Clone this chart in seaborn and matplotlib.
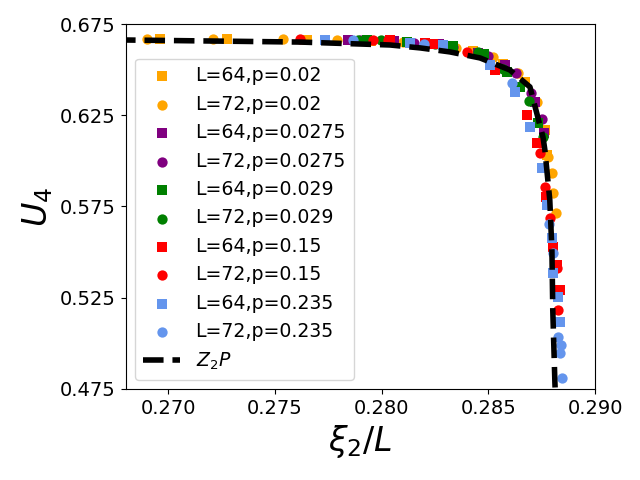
import matplotlib
matplotlib.use("Agg")
import matplotlib.pyplot as plt
import seaborn as sns
import pandas as pd

# ---- data ----
o64_x = [0.26963, 0.27276, 0.2765, 0.2795, 0.2822, 0.2843, 0.2857, 0.2867, 0.28765, 0.28774]
o64_y = [0.6670, 0.6670, 0.6663, 0.6656, 0.6640, 0.6600, 0.6530, 0.6430, 0.6170, 0.6033]
o72_x = [0.26902, 0.27211, 0.27538, 0.27791, 0.2810, 0.2835, 0.2852, 0.2864, 0.2873, 0.28779, 0.28798, 0.28802, 0.28816]
o72_y = [0.6670, 0.6670, 0.6668, 0.6662, 0.6650, 0.6620, 0.6570, 0.6480, 0.6320, 0.6022, 0.5934, 0.5824, 0.5715]

p64_x = [0.27843, 0.2806, 0.2827, 0.2845, 0.2858, 0.28718, 0.2876]
p64_y = [0.6662, 0.6655, 0.6640, 0.6590, 0.6525, 0.6323, 0.6150]
p72_x = [0.2790, 0.2815, 0.28334, 0.2850, 0.2863, 0.2870, 0.2875]
p72_y = [0.6660, 0.6648, 0.6625, 0.6575, 0.6480, 0.6370, 0.6230]

g64_x = [0.2793, 0.2812, 0.28334, 0.2848, 0.28587, 0.28648, 0.28732]
g64_y = [0.6662, 0.6650, 0.6628, 0.6585, 0.6487, 0.6405, 0.6208]
g72_x = [0.27890, 0.27997, 0.2825, 0.2845, 0.28568, 0.2869, 0.28756]
g72_y = [0.6663, 0.6660, 0.6638, 0.6595, 0.6505, 0.6330, 0.6131]

r64_x = [0.28039, 0.28203, 0.28241, 0.28531, 0.28681, 0.28728, 0.28770, 0.28802, 0.28821, 0.28835]
r64_y = [0.6660, 0.6648, 0.6640, 0.6498, 0.6252, 0.6098, 0.5803, 0.5529, 0.5430, 0.5293]
r72_x = [0.27618, 0.27960, 0.28030, 0.28400, 0.28742, 0.28765, 0.28788, 0.28821, 0.28826]
r72_y = [0.6666, 0.6662, 0.6660, 0.6597, 0.6044, 0.5857, 0.5688, 0.5414, 0.5184]

b64_x = [0.27735, 0.28133, 0.28287, 0.28507, 0.28625, 0.28695, 0.28751, 0.28774, 0.28798, 0.28802, 0.28826, 0.28835]
b64_y = [0.6662, 0.6646, 0.6635, 0.6525, 0.6378, 0.6186, 0.5961, 0.5759, 0.5578, 0.5386, 0.5255, 0.5118]
b72_x = [0.27866, 0.2820, 0.28610, 0.28784, 0.28802, 0.28826, 0.28840, 0.28835, 0.28845]
b72_y = [0.6662, 0.6640, 0.6427, 0.5655, 0.5496, 0.5036, 0.4992, 0.4948, 0.4811]

z2p_x = [0.2675, 0.27618, 0.28039, 0.28180, 0.28320, 0.28461, 0.28601, 0.28695, 0.28756, 0.28765, 0.28788, 0.28798, 0.28802, 0.28812, 0.28815]
z2p_y = [0.6663, 0.6651, 0.6635, 0.6619, 0.6597, 0.6564, 0.6498, 0.6405, 0.6131, 0.6060, 0.5786, 0.5512, 0.5184, 0.4784, 0.4700]

labels = ["L=64,p=0.02", "L=72,p=0.02", "L=64,p=0.0275", "L=72,p=0.0275",
          "L=64,p=0.029", "L=72,p=0.029", "L=64,p=0.15", "L=72,p=0.15",
          "L=64,p=0.235", "L=72,p=0.235"]
colors = ["orange", "orange", "purple", "purple", "green", "green",
          "red", "red", "cornflowerblue", "cornflowerblue"]
markers = ["s", "o"] * 5
xs = [o64_x, o72_x, p64_x, p72_x, g64_x, g72_x, r64_x, r72_x, b64_x, b72_x]
ys = [o64_y, o72_y, p64_y, p72_y, g64_y, g72_y, r64_y, r72_y, b64_y, b72_y]

fig, ax = plt.subplots(figsize=(6.4, 4.8), dpi=100)
fig.subplots_adjust(left=0.1964, right=0.9297, top=0.95, bottom=0.1896)

for x, y, lab, c, m in zip(xs, ys, labels, colors, markers):
    df = pd.DataFrame({"x": x, "y": y})
    sns.scatterplot(data=df, x="x", y="y", ax=ax, color=c, marker=m, s=55,
                    linewidth=0, label=lab, zorder=2)

zdf = pd.DataFrame({"x": z2p_x, "y": z2p_y})
sns.lineplot(data=zdf, x="x", y="y", ax=ax, color="black", lw=4,
             linestyle="--", sort=False, estimator=None, label="$Z_2P$", zorder=3)

ax.set_xlim(0.268, 0.290)
ax.set_ylim(0.475, 0.675)
ax.set_xticks([0.270, 0.275, 0.280, 0.285, 0.290])
ax.set_yticks([0.475, 0.525, 0.575, 0.625, 0.675])
ax.set_xticklabels(["0.270", "0.275", "0.280", "0.285", "0.290"])
ax.set_yticklabels(["0.475", "0.525", "0.575", "0.625", "0.675"])
ax.tick_params(labelsize=14)
ax.set_xlabel(r"$\xi_2/L$", fontsize=24)
ax.set_ylabel(r"$U_4$", fontsize=24)
ax.legend(loc="lower left", fontsize=13.6)

fig.savefig("out.png", dpi=100)
